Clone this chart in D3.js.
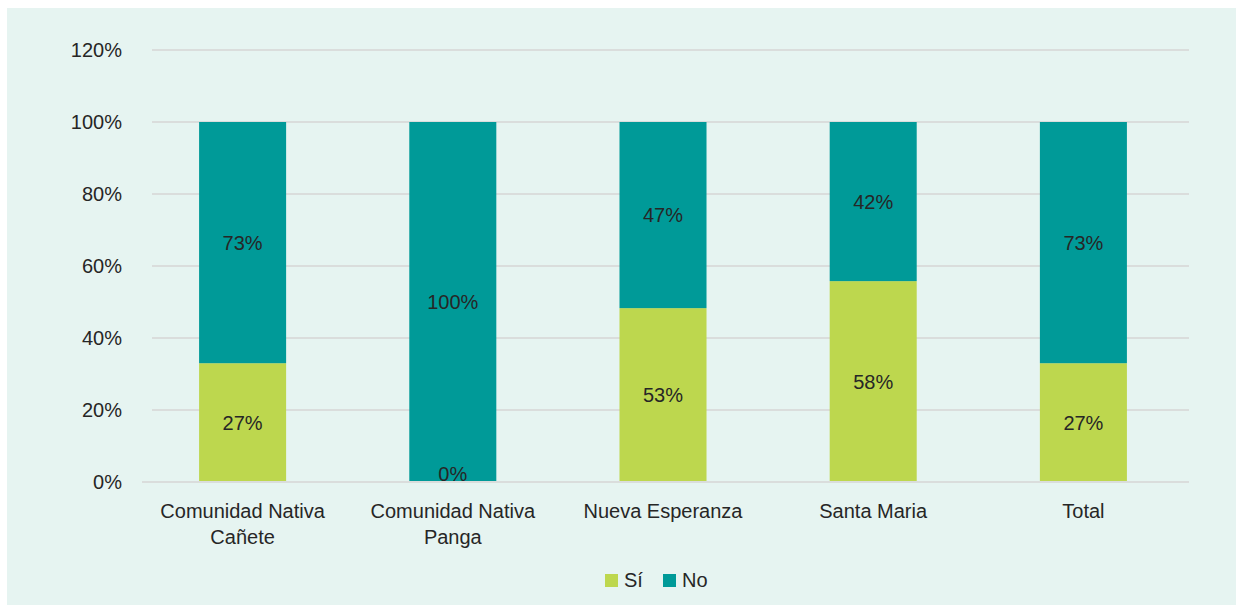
<!DOCTYPE html>
<html>
<head>
<meta charset="utf-8">
<script src="https://cdn.jsdelivr.net/npm/d3@7/dist/d3.min.js"></script>
<style>
  html, body { margin: 0; padding: 0; background: #ffffff; }
  svg { display: block; }
  text { font-family: "Liberation Sans", Arial, sans-serif; fill: #262626; }
</style>
</head>
<body>
<svg id="chart" width="1236" height="605"></svg>
<script>
// ---- data ----
const categories = [["Comunidad Nativa", "Cañete"], ["Comunidad Nativa", "Panga"], ["Nueva Esperanza"], ["Santa Maria"], ["Total"]];
const seriesNames = ["Sí", "No"];
const siValues = [33, 0, 48.3, 55.8, 33];
const noValues = [67, 100, 51.7, 44.2, 67];
const siLabels = ["27%", "0%", "53%", "58%", "27%"];
const noLabels = ["73%", "100%", "47%", "42%", "73%"];
const yTicks = [0, 20, 40, 60, 80, 100, 120];
const colors = ["#BDD74E", "#009A98"];

// ---- layout ----
const svg = d3.select("#chart");
svg.append("rect").attr("x", 7).attr("y", 8).attr("width", 1236 - 7).attr("height", 605 - 8).attr("fill", "#E6F4F1");

const x = d3.scaleBand().domain(d3.range(categories.length)).range([137.5, 1188.5]).paddingInner(0.586).paddingOuter(0.293);
const y = d3.scaleLinear().domain([0, 120]).range([482, 50]);

// gridlines
svg.append("g").selectAll("line").data(yTicks.filter(t => t > 0)).join("line")
  .attr("x1", 152).attr("x2", 1189)
  .attr("y1", d => y(d)).attr("y2", d => y(d))
  .attr("stroke", "#DADDDC").attr("stroke-width", 2);

// y axis labels
const yAxis = d3.axisLeft(y).tickValues(yTicks).tickFormat(d => d + "%").tickSize(0).tickPadding(0);
const gy = svg.append("g").attr("transform", "translate(122,0)").call(yAxis);
gy.select(".domain").remove();
gy.selectAll("text").attr("font-size", 20).attr("font-family", "Liberation Sans, Arial, sans-serif").attr("fill", "#262626");

// stacked bars
const stackData = categories.map((c, i) => ({ i, si: siValues[i], no: noValues[i] }));
const stack = d3.stack().keys(["si", "no"])(stackData);
const labelsByKey = { si: siLabels, no: noLabels };

stack.forEach((layer, k) => {
  const g = svg.append("g");
  g.selectAll("rect").data(layer).join("rect")
    .attr("x", d => x(d.data.i))
    .attr("width", x.bandwidth())
    .attr("y", d => y(d[1]))
    .attr("height", d => y(d[0]) - y(d[1]))
    .attr("fill", colors[k]);
});

// baseline
svg.append("line").attr("x1", 142).attr("x2", 1189).attr("y1", y(0)).attr("y2", y(0))
  .attr("stroke", "#DADDDC").attr("stroke-width", 2);

// data labels
stack.forEach((layer, k) => {
  const labels = labelsByKey[layer.key];
  svg.append("g").selectAll("text").data(layer).join("text")
    .attr("x", d => x(d.data.i) + x.bandwidth() / 2)
    .attr("y", d => Math.min((y(d[0]) + y(d[1])) / 2, y(0) - 8))
    .attr("text-anchor", "middle")
    .attr("dominant-baseline", "central")
    .attr("font-size", 20)
    .text((d, i) => labels[i]);
});

// category labels
const xAxis = svg.append("g");
categories.forEach((lines, i) => {
  const t = xAxis.append("text")
    .attr("x", x(i) + x.bandwidth() / 2)
    .attr("y", 511)
    .attr("text-anchor", "middle")
    .attr("font-size", 20);
  lines.forEach((ln, j) => {
    t.append("tspan").attr("x", x(i) + x.bandwidth() / 2).attr("dy", j === 0 ? "0.35em" : 26).text(ln);
  });
});

// legend
const legendItems = [{ name: seriesNames[0], color: colors[0], x: 605 }, { name: seriesNames[1], color: colors[1], x: 663 }];
const lg = svg.append("g");
legendItems.forEach(it => {
  lg.append("rect").attr("x", it.x).attr("y", 574).attr("width", 13).attr("height", 13).attr("fill", it.color);
  lg.append("text").attr("x", it.x + 19).attr("y", 580).attr("dominant-baseline", "central").attr("font-size", 20).text(it.name);
});
</script>
</body>
</html>
